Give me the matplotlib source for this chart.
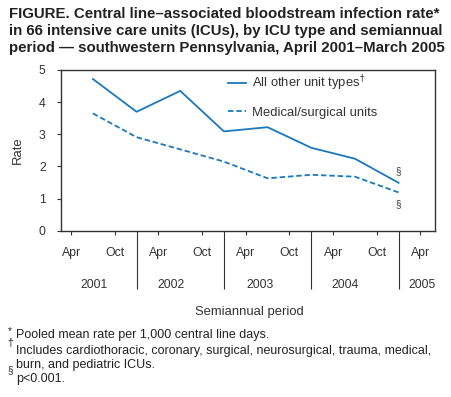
import matplotlib
matplotlib.use("Agg")
import matplotlib.pyplot as plt
import matplotlib.transforms as mtransforms

plt.rcParams['font.family'] = ['Liberation Sans', 'DejaVu Sans']

# Data (x in months since Jan 1, 2001; each point = midpoint of a semiannual period)
periods = ["Apr-Sep 2001", "Oct 2001-Mar 2002", "Apr-Sep 2002", "Oct 2002-Mar 2003",
           "Apr-Sep 2003", "Oct 2003-Mar 2004", "Apr-Sep 2004", "Oct 2004-Mar 2005"]
period_mid_month = [6, 12, 18, 24, 30, 36, 42, 48]
all_other = [4.72, 3.70, 4.35, 3.09, 3.22, 2.58, 2.24, 1.49]
med_surg = [3.65, 2.91, 2.53, 2.15, 1.63, 1.74, 1.68, 1.19]

tick_months = [3, 9, 15, 21, 27, 33, 39, 45, 51]
tick_labels = ["Apr", "Oct", "Apr", "Oct", "Apr", "Oct", "Apr", "Oct", "Apr"]
year_bounds = [12, 24, 36, 48]
years = ["2001", "2002", "2003", "2004", "2005"]

blue = "#1a78be"
dark = "#333333"
txt = "#222222"

fig = plt.figure(figsize=(4.52, 3.97), dpi=100)
ax = fig.add_axes([61/452, 1-230.7/397, (435-61)/452, (230.7-70)/397])

ax.plot(period_mid_month, all_other, color=blue, lw=1.3, label="All other unit types$^{\\dagger}$")
ax.plot(period_mid_month, med_surg, color=blue, lw=1.3, ls=(0, (3, 1.6)), label="Medical/surgical units")

ax.set_xlim(1.62, 53.0)
ax.set_ylim(0, 5)
ax.set_yticks([0, 1, 2, 3, 4, 5])
ax.set_xticks(tick_months)
ax.set_xticklabels(tick_labels)
ax.set_xticks(year_bounds, minor=True)
ax.tick_params(axis='x', which='major', length=3, width=0.8, color=dark, pad=8.5,
               labelsize=8.8, labelcolor=dark)
ax.tick_params(axis='x', which='minor', length=41.5, width=0.8, color=dark)
ax.tick_params(axis='y', length=3, width=0.8, color=dark, pad=8, labelsize=8.8, labelcolor=dark)
for s in ax.spines.values():
    s.set_color(dark)
    s.set_linewidth(1.0)

trans = mtransforms.blended_transform_factory(ax.transData, ax.transAxes)
year_x = [6.2, 16.8, 29.0, 40.7, 51.2]
for yx, yr in zip(year_x, years):
    ax.text(yx, -0.335, yr, transform=trans, ha='center', va='center', fontsize=8.8, color=dark)

# significance markers
ax.text(period_mid_month[-1], all_other[-1] + 0.35, "§", ha='center', va='center', fontsize=7, color=dark)
ax.text(period_mid_month[-1], med_surg[-1] - 0.35, "§", ha='center', va='center', fontsize=7, color=dark)

ax.set_ylabel("Rate", fontsize=9.4, color=dark, labelpad=11)
leg = ax.legend(loc='upper left', bbox_to_anchor=(0.415, 1.05), frameon=False, fontsize=9.4,
                handlelength=1.4, handletextpad=0.45, labelspacing=1.0, labelcolor=dark)

fig.text(249/452, 1-312/397, "Semiannual period", ha='center', va='center', fontsize=9.4, color=dark)

title = ("FIGURE. Central line–associated bloodstream infection rate*\n"
         "in 66 intensive care units (ICUs), by ICU type and semiannual\n"
         "period — southwestern Pennsylvania, April 2001–March 2005")
fig.text(9/452, 1-7/397, title, ha='left', va='top', fontsize=10.8, fontweight='bold',
         color=txt, linespacing=1.27)

fs = 9.0
fig.text(16/452, 1-335/397, "Pooled mean rate per 1,000 central line days.", ha='left', va='center', fontsize=fs, color=txt)
fig.text(8/452, 1-331/397, "*", ha='left', va='center', fontsize=7, color=txt)
fig.text(7/452, 1-343/397, "†", ha='left', va='center', fontsize=7.5, color=txt)
fig.text(16/452, 1-351/397, "Includes cardiothoracic, coronary, surgical, neurosurgical, trauma, medical,",
         ha='left', va='center', fontsize=fs, color=txt)
fig.text(16/452, 1-365/397, "burn, and pediatric ICUs.", ha='left', va='center', fontsize=fs, color=txt)
fig.text(7/452, 1-370/397, "§", ha='left', va='center', fontsize=7, color=txt)
fig.text(16/452, 1-379/397, "p<0.001.", ha='left', va='center', fontsize=fs, color=txt)

fig.savefig("out.png", dpi=100)
